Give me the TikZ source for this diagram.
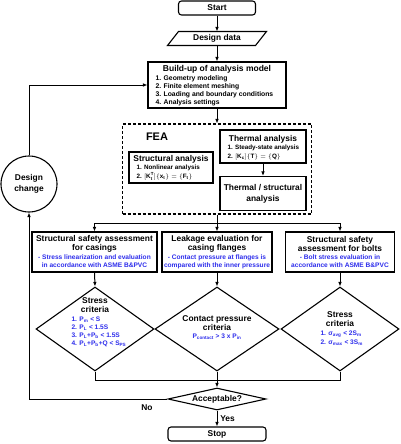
\documentclass[tikz,border=0pt]{standalone}
\usepackage{fontspec}
\setmainfont{Liberation Sans}
\usetikzlibrary{shapes.geometric,arrows.meta,calc}
\definecolor{blueT}{RGB}{45,45,235}
\newcommand\ftit{\fontsize{8.4}{9}\selectfont\bfseries}
\newcommand\fsm{\fontsize{6.6}{8}\selectfont\bfseries}
\begin{document}
\begin{tikzpicture}[x=1pt,y=-1pt,line width=1pt,
 box/.style={draw,rectangle,inner sep=0pt,line width=1.1pt,font=\ftit,align=center},
 rbox/.style={box,rounded corners=3pt},
 dmd/.style={draw,diamond,inner sep=0pt,line width=1.1pt},
 arr/.style={-{Latex[length=4.5pt,width=3.6pt]},line width=1pt},
 ln/.style={line width=1pt},
 ttl/.style={font=\ftit,align=center,inner sep=0pt},
 sm/.style={font=\fsm,align=left,inner sep=0pt},
 smb/.style={font=\fsm,align=center,inner sep=0pt,text=blueT},
]
\useasboundingbox (0,0) rectangle (400,444);

% top
\node[rbox,minimum width=77pt,minimum height=14pt] (start) at (217,8) {Start};
\node[font=\ftit,minimum width=87pt,minimum height=13pt,inner sep=0pt] (dd) at (217,38.5) {Design data};
\draw[line width=1.1pt] ($(dd.south west)+(-5.5,0)$) -- ($(dd.south east)+(-5.5,0)$) -- ($(dd.north east)+(5.5,0)$) -- ($(dd.north west)+(5.5,0)$) -- cycle;

\node[box,minimum width=138pt,minimum height=46pt] (build) at (217,85) {};
\node[ttl,font=\fontsize{8.5}{9}\selectfont\bfseries] (buildT) at (217,69) {Build-up of analysis model};
\node[sm,anchor=west,font=\fontsize{6.8}{8}\selectfont\bfseries] (buildL) at (155,90.5) {1. Geometry modeling\\2. Finite element meshing\\3. Loading and boundary conditions\\4. Analysis settings};

% FEA
\node[box,dashed,dash pattern=on 3pt off 2pt,minimum width=189pt,minimum height=90pt] (fea) at (217,169) {};
\node[inner sep=0pt,font=\fontsize{11}{12}\selectfont\bfseries] (feaT) at (157,137) {FEA};
\node[box,minimum width=84pt,minimum height=31pt] (sa) at (171,167.5) {};
\node[ttl] (saT) at (171,159) {Structural analysis};
\node[sm,anchor=west,font=\fontsize{6.3}{9}\selectfont\bfseries] (saL) at (136,172.5) {1. Nonlinear analysis\\2. $[\mathbf{K}_\mathbf{t}^\mathbf{T}]\{\mathbf{x}_\mathbf{t}\}=\{\mathbf{F}_\mathbf{t}\}$};
\node[box,minimum width=86pt,minimum height=33pt] (ta) at (263,146.5) {};
\node[ttl] (taT) at (263,139) {Thermal analysis};
\node[sm,anchor=west,font=\fontsize{6.3}{9}\selectfont\bfseries] (taL) at (227,152.5) {1. Steady-state analysis\\2. $[\mathbf{K}_\mathbf{c}]\{\mathbf{T}\}=\{\mathbf{Q}\}$};
\node[box,minimum width=86pt,minimum height=34pt,font=\fontsize{8.4}{11}\selectfont\bfseries] (ts) at (263,193.5) {Thermal / structural\\analysis};

% three boxes
\node[box,minimum width=125pt,minimum height=40pt] (b1) at (94.5,252) {};
\node[ttl] (b1T) at (94.5,243.5) {Structural safety assessment\\for casings};
\node[smb] (b1B) at (94.5,261.5) {- Stress linearization and evaluation\\in accordance with ASME B\&PVC};
\node[box,minimum width=110pt,minimum height=40pt] (b2) at (217,252) {};
\node[ttl] (b2T) at (217,243.5) {Leakage evaluation for\\casing flanges};
\node[smb] (b2B) at (217,261.5) {- Contact pressure at flanges is\\compared with the inner pressure};
\node[box,minimum width=109pt,minimum height=40pt] (b3) at (340,252) {};
\node[ttl] (b3T) at (340,243.5) {Structural safety\\assessment for bolts};
\node[smb] (b3B) at (340,261.5) {- Bolt stress evaluation in\\accordance with ASME B\&PVC};

% diamonds
\node[dmd,minimum width=118pt,minimum height=84pt] (d1) at (95,329) {};
\node[ttl] (d1T) at (95,305.5) {Stress\\criteria};
\node[sm,anchor=west,text=blueT] (d1L) at (71,332) {1. P\textsubscript{m} < S\\2. P\textsubscript{L} < 1.5S\\3. P\textsubscript{L}+P\textsubscript{b} < 1.5S\\4. P\textsubscript{L}+P\textsubscript{b}+Q < S\textsubscript{PS}};
\node[dmd,minimum width=124pt,minimum height=84pt] (d2) at (217,329) {};
\node[ttl] (d2T) at (217,323.5) {Contact pressure\\criteria};
\node[smb] (d2L) at (217,337) {P\textsubscript{contact} > 3 x P\textsubscript{in}};
\node[dmd,minimum width=118pt,minimum height=84pt] (d3) at (340,329) {};
\node[ttl] (d3T) at (340,319.5) {Stress\\criteria};
\node[sm,anchor=west,text=blueT,font=\fontsize{6.6}{9}\selectfont\bfseries] (d3L) at (320,338.5) {1. σ\textsubscript{avg} < 2S\textsubscript{m}\\2. σ\textsubscript{max} < 3S\textsubscript{m}};

% bottom
\node[dmd,minimum width=98pt,minimum height=22pt] (acc) at (217,399) {};
\node[ttl] (accT) at (217,399) {Acceptable?};
\node[rbox,minimum width=98pt,minimum height=14pt] (stop) at (217,434) {Stop};
\node[draw,circle,line width=1.1pt,minimum size=56pt,inner sep=0pt,font=\fontsize{8.4}{11}\selectfont\bfseries,align=center] (dc) at (29,184) {Design\\change};
\node[ttl] (no) at (147,408) {No};
\node[ttl] (yes) at (227.5,419) {Yes};

% connectors
\draw[arr] (start.south) -- (dd.north);
\draw[arr] (dd.south) -- (build.north);
\draw[arr] (build.south) -- (fea.north);
\draw[arr] (ta.south) -- (ts.north);
\coordinate (split) at (217,223);
\draw[ln] (fea.south) -- (split);
\draw[ln] (b1.north |- split) -- (b3.north |- split);
\draw[arr] (b1.north |- split) -- (b1.north);
\draw[arr] (split) -- (b2.north);
\draw[arr] (b3.north |- split) -- (b3.north);
\draw[arr] (b1.south) -- (d1.north);
\draw[arr] (b2.south) -- (d2.north);
\draw[arr] (b3.south) -- (d3.north);
\coordinate (merge) at (217,380);
\draw[ln] (d1.south) -- (d1.south |- merge) -- (d3.south |- merge) -- (d3.south);
\draw[arr] (d2.south) -- (acc.north);
\draw[arr] (acc.south) -- (stop.north);
\draw[arr] (acc.west) -- (acc.west -| dc.south) -- (dc.south);
\draw[arr] (dc.north) |- (build.west);
\end{tikzpicture}
\end{document}
